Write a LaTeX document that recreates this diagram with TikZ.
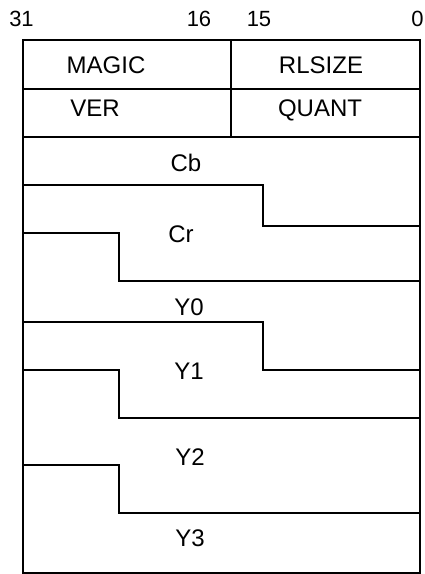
\documentclass[tikz,border=0pt]{standalone}
\usepackage{fontspec}
\setmainfont{Liberation Sans}
\begin{document}
\begin{tikzpicture}[x=1pt,y=-1pt,
  lbl/.style={inner sep=0pt, anchor=center, font=\fontsize{24}{24}\selectfont, text height=17.2pt, text depth=0pt},
  num/.style={inner sep=0pt, anchor=center, font=\fontsize{22}{22}\selectfont, text height=15.8pt, text depth=0pt},
  rule/.style={line width=1.5pt, line join=miter, line cap=rect}]
\useasboundingbox (0,0) rectangle (425,574);
% bit numbers
\node[num] (b31) at (21.5,18.5) {31};
\node[num] (b16) at (199,18.5) {16};
\node[num] (b15) at (259,18.5) {15};
\node[num] (b0)  at (417.5,18.5) {0};
% frame
\draw[rule] (23,40) rectangle (420,573);
% header rows
\draw[rule] (23,89) -- (420,89);
\draw[rule] (23,137) -- (420,137);
\draw[rule] (231,40) -- (231,137);
% stepped dividers
\draw[rule] (23,185) -- (263,185) -- (263,226) -- (420,226);
\draw[rule] (23,233) -- (119,233) -- (119,281) -- (420,281);
\draw[rule] (23,322) -- (263,322) -- (263,370) -- (420,370);
\draw[rule] (23,370) -- (119,370) -- (119,418) -- (420,418);
\draw[rule] (23,465) -- (119,465) -- (119,513) -- (420,513);
% labels
\node[lbl] (magic) at (106,65) {MAGIC};
\node[lbl] (rlsize) at (321,65) {RLSIZE};
\node[lbl] (ver) at (95,108) {VER};
\node[lbl] (quant) at (320,108) {QUANT};
\node[lbl] (cb) at (186,163) {Cb};
\node[lbl] (cr) at (181,234) {Cr};
\node[lbl] (y0) at (189,307) {Y0};
\node[lbl] (y1) at (189,371) {Y1};
\node[lbl] (y2) at (190,457) {Y2};
\node[lbl] (y3) at (190,538) {Y3};
\end{tikzpicture}
\end{document}
